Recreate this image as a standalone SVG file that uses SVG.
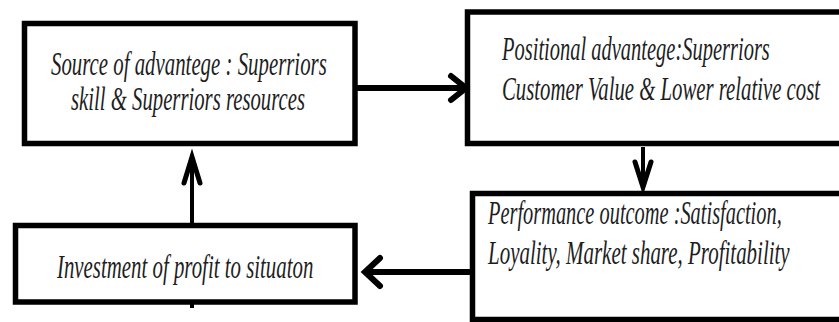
<svg xmlns="http://www.w3.org/2000/svg" width="839" height="322" viewBox="0 0 839 322">
  <style>
    .box { fill: #ffffff; stroke: #000000; stroke-width: 5.5; }
    .lbl { font-family: "Liberation Serif", "Times New Roman", serif; font-style: italic; font-size: 33px; fill: #1e1e1e; }
    .stem { stroke: #000000; fill: none; }
    .head { stroke: #000000; fill: none; stroke-linecap: round; stroke-linejoin: miter; }
  </style>
  <rect x="0" y="0" width="839" height="322" fill="#ffffff"/>

  <g id="connectors">
    <!-- source -> positional -->
    <line class="stem" x1="357" y1="88" x2="464" y2="88" stroke-width="6"/>
    <polyline class="head" points="451,76 466,88 451,100" stroke-width="6"/>
    <!-- positional -> performance -->
    <line class="stem" x1="643" y1="147" x2="643" y2="188" stroke-width="4"/>
    <polyline class="head" points="635,162 643,187 651,162" stroke-width="5"/>
    <!-- performance -> investment -->
    <line class="stem" x1="470" y1="272" x2="366" y2="272" stroke-width="6"/>
    <polyline class="head" points="380,258 365,272 380,286" stroke-width="6"/>
    <!-- investment -> source -->
    <line class="stem" x1="192" y1="308" x2="192" y2="157" stroke-width="4"/>
    <polyline class="head" points="184,183 192,157 200,183" stroke-width="5"/>
  </g>

  <!-- labels are set in a narrowed italic: scaled horizontally, then fitted with textLength -->
  <g id="node-source">
    <rect class="box" x="24.5" y="23.5" width="330.5" height="120"/>
    <text class="lbl" transform="translate(51,75) scale(0.72,1)" textLength="383" lengthAdjust="spacingAndGlyphs">Source of advantege : Superriors</text>
    <text class="lbl" transform="translate(71,110) scale(0.72,1)" textLength="325" lengthAdjust="spacingAndGlyphs">skill &amp; Superriors resources</text>
  </g>

  <g id="node-positional">
    <rect class="box" x="467.5" y="12" width="376" height="131.5"/>
    <text class="lbl" transform="translate(502,60) scale(0.72,1)" textLength="372" lengthAdjust="spacingAndGlyphs">Positional advantege:Superriors</text>
    <text class="lbl" transform="translate(502,100) scale(0.62,1)" textLength="513" lengthAdjust="spacingAndGlyphs">Customer Value &amp; Lower relative cost</text>
  </g>

  <g id="node-performance">
    <rect class="box" x="472.5" y="193.5" width="371" height="126"/>
    <text class="lbl" transform="translate(488,224) scale(0.72,1)" textLength="408" lengthAdjust="spacingAndGlyphs">Performance outcome :Satisfaction,</text>
    <text class="lbl" transform="translate(488,264) scale(0.72,1)" textLength="419" lengthAdjust="spacingAndGlyphs">Loyality, Market share, Profitability</text>
  </g>

  <g id="node-investment">
    <rect class="box" x="15.5" y="225.5" width="339.5" height="76.5"/>
    <text class="lbl" transform="translate(57,278) scale(0.72,1)" textLength="356" lengthAdjust="spacingAndGlyphs">Investment of profit to situaton</text>
  </g>
</svg>
